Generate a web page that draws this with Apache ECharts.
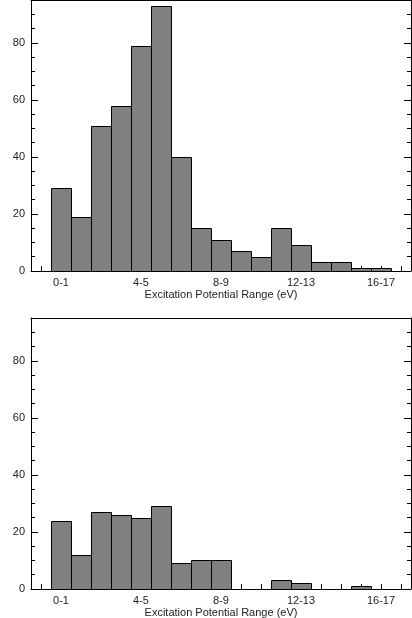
<!DOCTYPE html>
<html>
<head>
<meta charset="utf-8">
<script src="https://cdn.jsdelivr.net/npm/echarts@6/dist/echarts.min.js"></script>
<style>
  html, body { margin: 0; padding: 0; background: #fff; }
  #main { width: 412px; height: 618px; }
</style>
</head>
<body>
<div id="main"></div>
<script>
// bins of excitation potential, 1 eV wide
var binLabels = ['0-1','1-2','2-3','3-4','4-5','5-6','6-7','7-8','8-9','9-10',
                 '10-11','11-12','12-13','13-14','14-15','15-16','16-17'];
var topCounts    = [29, 19, 51, 58, 79, 93, 40, 15, 11, 7, 5, 15, 9, 3, 3, 1, 1];
var bottomCounts = [24, 12, 27, 26, 25, 29, 9, 10, 10, 0, 0, 3, 2, 0, 0, 1, 0];
var labeledBins  = [0, 4, 8, 12, 16];
var yMajor = [0, 20, 40, 60, 80];
var yMinor = [0, 5, 10, 15, 20, 25, 30, 35, 40, 45, 50, 55, 60, 65, 70, 75, 80, 85, 90];

var font = 'Liberation Sans';
var ink = '#000';

var myChart = echarts.init(document.getElementById('main'));

function toData(counts) {
    return counts.map(function (c, i) { return [i, i + 1, c]; });
}

function renderBar(params, api) {
    var v = api.value(2);
    if (!v) return;
    var p0 = api.coord([api.value(0), v]);
    var p1 = api.coord([api.value(1), 0]);
    return {
        type: 'rect',
        shape: { x: Math.round(p0[0]) + 0.5, y: Math.round(p0[1]) + 0.5,
                 width: Math.round(p1[0] - p0[0]), height: Math.round(p1[1] - p0[1]) },
        style: { fill: '#808080', stroke: ink, lineWidth: 1 }
    };
}

var grids = [
    { left: 31, right: 1, top: 0, height: 271, containLabel: false, outerBoundsMode: 'none' },
    { left: 31, right: 1, top: 318, height: 271, containLabel: false, outerBoundsMode: 'none' }
];

// ticks at the centre of every bin
var xTicks = [];
for (var t = -0.5; t <= 17.5; t += 1) xTicks.push(t);

var xAxes = [], yAxes = [], series = [];
[topCounts, bottomCounts].forEach(function (counts, g) {
    xAxes.push({
        type: 'value', gridIndex: g, position: 'bottom', min: -1, max: 18,
        name: 'Excitation Potential Range (eV)', nameLocation: 'middle', nameGap: 18,
        nameTextStyle: { fontFamily: font, fontSize: 11, color: '#222' },
        axisLine: { show: true, onZero: false, lineStyle: { color: ink, width: 1 } },
        axisTick: { show: true, inside: true, length: 5, lineStyle: { color: ink },
                    customValues: xTicks },
        axisLabel: { fontFamily: font, fontSize: 11, color: '#222', margin: 6,
                     customValues: labeledBins.map(function (i) { return i + 0.5; }),
                     formatter: function (v) { return binLabels[Math.floor(v)]; } },
        splitLine: { show: false }
    });
    // top frame line
    xAxes.push({
        type: 'value', gridIndex: g, position: 'top', min: -1, max: 18,
        axisLine: { show: true, onZero: false, lineStyle: { color: ink, width: 1 } },
        axisTick: { show: false }, axisLabel: { show: false }, splitLine: { show: false }
    });
    ['left', 'right'].forEach(function (pos) {
        yAxes.push({
            type: 'value', gridIndex: g, position: pos, min: 0, max: 95,
            name: pos === 'left' ? 'Number of Lines' : '', nameLocation: 'middle', nameGap: 26,
            nameTextStyle: { fontFamily: font, fontSize: 11, color: '#222' },
            axisLine: { show: true, onZero: false, lineStyle: { color: ink, width: 1 } },
            axisTick: { show: true, inside: true, length: 7, lineStyle: { color: ink }, customValues: yMajor },
            axisLabel: { show: pos === 'left', fontFamily: font, fontSize: 11, color: '#222', margin: 6,
                         customValues: yMajor },
            splitLine: { show: false }
        });
        yAxes.push({
            type: 'value', gridIndex: g, position: pos, min: 0, max: 95,
            axisLine: { show: false, onZero: false },
            axisTick: { show: true, inside: true, length: 4, lineStyle: { color: ink }, customValues: yMinor },
            axisLabel: { show: false }, splitLine: { show: false }
        });
    });
    series.push({
        type: 'custom', xAxisIndex: g * 2, yAxisIndex: g * 4,
        renderItem: renderBar,
        encode: { x: [0, 1], y: 2 },
        data: toData(counts),
        z: 1
    });
});

myChart.setOption({
    animation: false,
    grid: grids,
    xAxis: xAxes,
    yAxis: yAxes,
    series: series
});
</script>
</body>
</html>
